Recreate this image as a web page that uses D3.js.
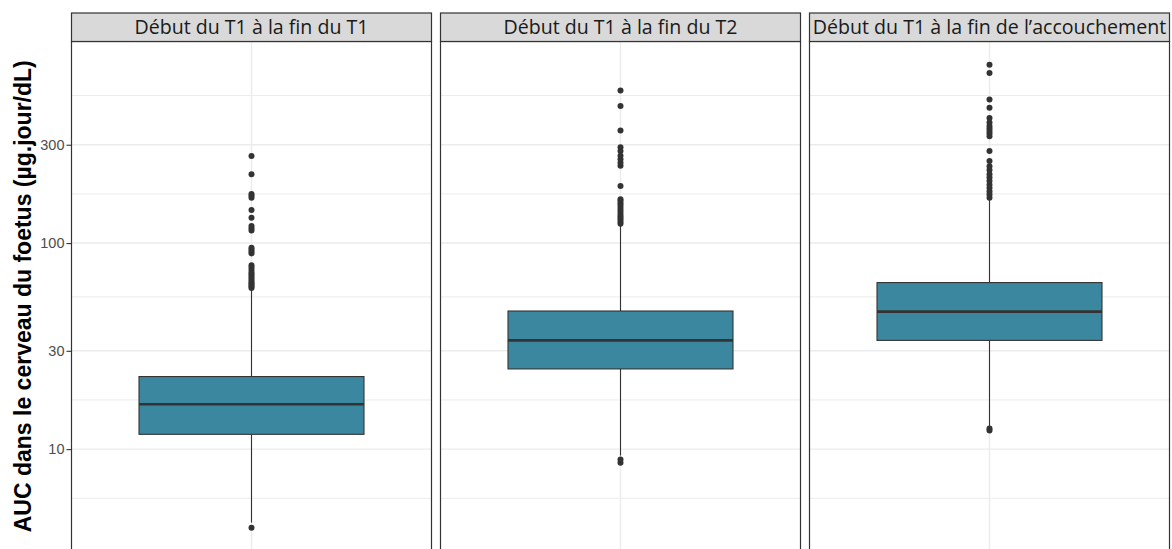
<!DOCTYPE html>
<html>
<head>
<meta charset="utf-8">
<script src="https://cdn.jsdelivr.net/npm/d3@7"></script>
<style>
  body { margin: 0; background: #fff; }
  svg { display: block; }
  .strip-text { font-family: 'Open Sans', sans-serif; font-size: 19.6px; fill: #1a1a1a; }
  .tick-label { font-family: 'Liberation Sans', Arial, sans-serif; font-size: 14.5px; fill: #4d4d4d; }
  .y-title { font-family: 'Liberation Sans', Arial, sans-serif; font-size: 23px; font-weight: bold; fill: #000; }
</style>
</head>
<body>
<div id="chart-container"></div>
<script>
const periods = [
  'Début du T1 à la fin du T1',
  'Début du T1 à la fin du T2',
  'Début du T1 à la fin de l\u2019accouchement'
];
const q1 = [11.8, 24.5, 33.7];
const medians = [16.5, 33.7, 46.5];
const q3 = [22.5, 46.8, 64.3];
const whiskerLow = [4.4, 9.3, 12.9];
const whiskerHigh = [59.5, 123, 166];
const outliersT1 = [4.15, 60.5, 61.5, 62.5, 63.5, 64.5, 66, 67.5, 69, 70.5, 72, 74, 76, 78,
  89, 91, 93, 95, 115, 118, 121, 132.6, 144.6, 166, 169.5, 173, 216, 264.5];
const outliersT2 = [8.6, 8.9, 124, 127, 130, 133, 136, 140, 144, 148, 152, 156, 160, 163,
  189, 237, 245, 255, 265, 280, 292, 352, 462, 550];
const outliersAcc = [12.3, 12.6, 166, 172, 178, 185, 192, 200, 208, 216, 226, 236, 250, 280,
  330, 340, 350, 360, 370, 385, 405, 453, 497, 669, 734];
const outliers = [outliersT1, outliersT2, outliersAcc];
const yTicks = [10, 30, 100, 300];

const width = 1172,
  height = 549;
const margin = {top: 13, left: 71.5};
const stripH = 28.5;
const panelW = 360,
  panelGap = 9;
const panelTop = margin.top + stripH;
const panelBottom = 551;

// log-scale y, expanded 5% on each side like ggplot
const allValues = outliers.flat().concat(whiskerLow, whiskerHigh);
const [lo, hi] = d3.extent(allValues).map(Math.log10);
const pad = (hi - lo) * 0.05;
const yScale = d3.scaleLog()
  .domain([Math.pow(10, lo - pad), Math.pow(10, hi + pad)])
  .range([panelBottom, panelTop]);

// minor breaks: midpoints between majors (in log space), extended by the first gap
const logTicks = yTicks.map(Math.log10);
const step = logTicks[1] - logTicks[0];
const extTicks = [logTicks[0] - step, ...logTicks, logTicks[logTicks.length - 1] + step];
const minorTicks = d3.range(extTicks.length - 1)
  .map(i => Math.pow(10, (extTicks[i] + extTicks[i + 1]) / 2));

// single discrete x position, ggplot expands it by 0.6 on each side
const xScale = d3.scaleLinear().domain([0.4, 1.6]).range([0, panelW]);
const boxHalf = 0.375;

const svg = d3.select('div#chart-container')
  .append('svg')
  .attr('width', width)
  .attr('height', height);

periods.forEach((label, i) => {
  const g = svg.append('g')
    .attr('transform', `translate(${margin.left + i * (panelW + panelGap)}, 0)`);

  // grid
  g.selectAll('line.minor')
    .data(minorTicks)
    .join('line')
    .attr('x1', 0).attr('x2', panelW)
    .attr('y1', d => yScale(d)).attr('y2', d => yScale(d))
    .attr('stroke', '#ebebeb').attr('stroke-width', 1);
  g.selectAll('line.major')
    .data(yTicks)
    .join('line')
    .attr('x1', 0).attr('x2', panelW)
    .attr('y1', d => yScale(d)).attr('y2', d => yScale(d))
    .attr('stroke', '#ebebeb').attr('stroke-width', 1.4);
  g.append('line')
    .attr('x1', xScale(1)).attr('x2', xScale(1))
    .attr('y1', panelTop).attr('y2', panelBottom)
    .attr('stroke', '#ebebeb').attr('stroke-width', 1.4);

  // whiskers
  g.append('line')
    .attr('x1', xScale(1)).attr('x2', xScale(1))
    .attr('y1', yScale(whiskerLow[i])).attr('y2', yScale(q1[i]))
    .attr('stroke', '#333').attr('stroke-width', 1.1);
  g.append('line')
    .attr('x1', xScale(1)).attr('x2', xScale(1))
    .attr('y1', yScale(q3[i])).attr('y2', yScale(whiskerHigh[i]))
    .attr('stroke', '#333').attr('stroke-width', 1.1);

  // box
  g.append('rect')
    .attr('x', xScale(1 - boxHalf))
    .attr('width', xScale(1 + boxHalf) - xScale(1 - boxHalf))
    .attr('y', yScale(q3[i]))
    .attr('height', yScale(q1[i]) - yScale(q3[i]))
    .attr('fill', '#3c87a0')
    .attr('stroke', '#333').attr('stroke-width', 1.1);
  g.append('line')
    .attr('x1', xScale(1 - boxHalf)).attr('x2', xScale(1 + boxHalf))
    .attr('y1', yScale(medians[i])).attr('y2', yScale(medians[i]))
    .attr('stroke', '#333').attr('stroke-width', 2.6);

  // outliers
  g.selectAll('circle')
    .data(outliers[i])
    .join('circle')
    .attr('cx', xScale(1))
    .attr('cy', d => yScale(d))
    .attr('r', 3)
    .attr('fill', '#333');

  // panel border
  g.append('rect')
    .attr('x', 0).attr('y', panelTop)
    .attr('width', panelW).attr('height', panelBottom - panelTop)
    .attr('fill', 'none').attr('stroke', '#333').attr('stroke-width', 1.2);

  // strip
  g.append('rect')
    .attr('x', 0).attr('y', margin.top)
    .attr('width', panelW).attr('height', stripH)
    .attr('fill', '#d9d9d9')
    .attr('stroke', '#333').attr('stroke-width', 1.2);
  g.append('text')
    .attr('class', 'strip-text')
    .attr('x', panelW / 2)
    .attr('y', margin.top + stripH / 2)
    .attr('dy', '0.35em')
    .attr('text-anchor', 'middle')
    .text(label);
});

// y axis on the first panel only
const yAxis = svg.append('g')
  .attr('transform', `translate(${margin.left}, 0)`)
  .call(d3.axisLeft(yScale).tickValues(yTicks).tickFormat(d3.format('d')).tickSize(5).tickPadding(2));
yAxis.select('.domain').remove();
yAxis.selectAll('.tick line').attr('stroke', '#333').attr('stroke-width', 1.1);
yAxis.selectAll('.tick text').attr('class', 'tick-label').attr('font-family', null).attr('font-size', null);

svg.append('text')
  .attr('class', 'y-title')
  .attr('transform', `translate(31, ${(panelTop + panelBottom) / 2}) rotate(-90)`)
  .attr('text-anchor', 'middle')
  .text('AUC dans le cerveau du foetus (µg.jour/dL)');
</script>
</body>
</html>
